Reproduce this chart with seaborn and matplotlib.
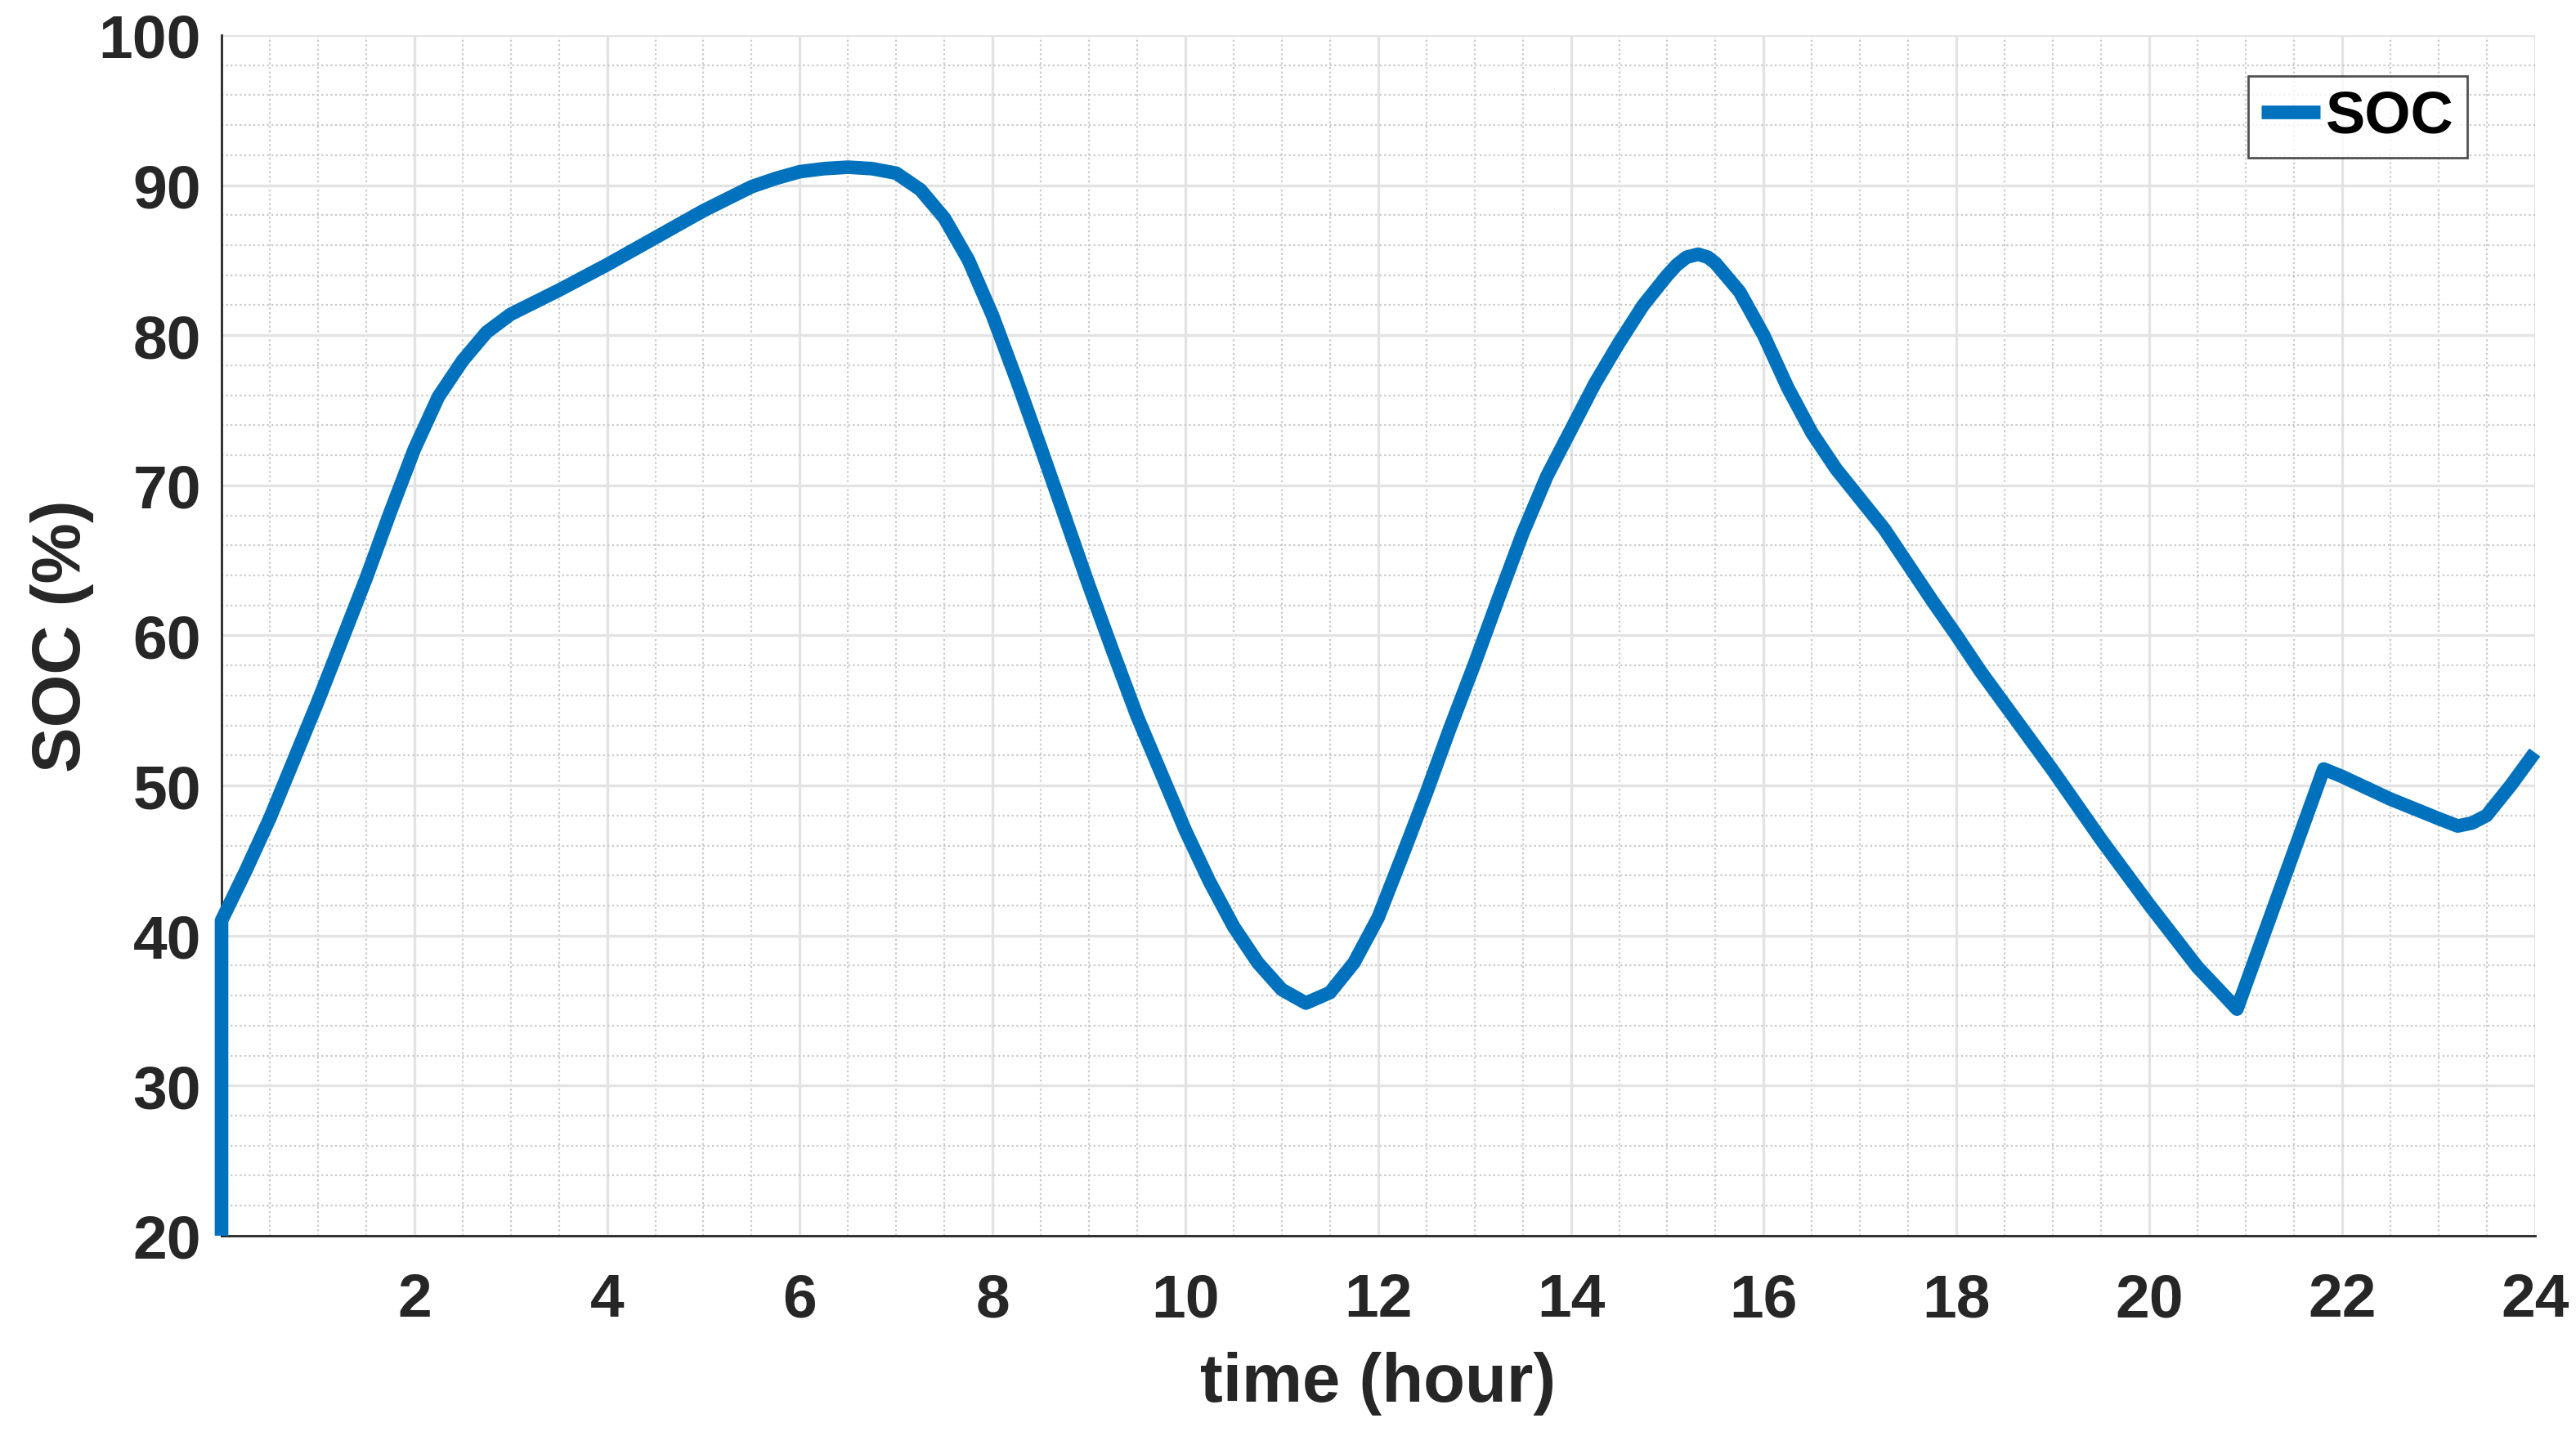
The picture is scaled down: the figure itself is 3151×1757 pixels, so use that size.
import matplotlib
matplotlib.use("Agg")
import matplotlib.pyplot as plt
from matplotlib.ticker import MultipleLocator
import seaborn as sns

# SOC curve (hour, %)
hours = [0, 0, 0.25, 0.5, 0.75, 1, 1.25, 1.5, 1.75, 2, 2.25, 2.5, 2.75, 3,
         3.25, 3.5, 4, 4.5, 5, 5.5, 5.75, 6, 6.25, 6.5, 6.75, 7, 7.25, 7.5,
         7.75, 8, 8.25, 8.5, 8.75, 9, 9.25, 9.5, 9.75, 10, 10.25, 10.5, 10.75,
         11, 11.25, 11.5, 11.75, 12, 12.25, 12.5, 12.75, 13, 13.25, 13.5,
         13.75, 14, 14.25, 14.5, 14.75, 15, 15.1, 15.2, 15.32, 15.42, 15.5,
         15.75, 16, 16.25, 16.5, 16.75, 17, 17.25, 17.5, 17.75, 18, 18.25,
         18.5, 18.75, 19, 19.5, 20, 20.5, 20.75, 20.91, 21.81, 22, 22.5, 23,
         23.2, 23.35, 23.5, 23.75, 24]
soc = [20, 41, 44.3, 47.8, 51.7, 55.6, 59.7, 63.8, 68.2, 72.4, 75.9, 78.3,
       80.2, 81.4, 82.2, 83.0, 84.7, 86.5, 88.3, 89.9, 90.45, 90.9, 91.1, 91.2,
       91.1, 90.8, 89.7, 87.8, 85.0, 81.3, 77.0, 72.5, 67.9, 63.3, 58.9, 54.6,
       50.8, 47.0, 43.6, 40.6, 38.2, 36.4, 35.5, 36.2, 38.2, 41.2, 45.3, 49.5,
       53.9, 58.1, 62.5, 66.8, 70.6, 73.7, 76.8, 79.5, 82.0, 84.0, 84.7, 85.2,
       85.4, 85.2, 84.8, 82.9, 80.0, 76.5, 73.5, 71.1, 69.1, 67.1, 64.7, 62.3,
       60.0, 57.6, 55.4, 53.2, 51.0, 46.4, 42.05, 37.9, 36.2, 35.1, 51.1, 50.6,
       49.1, 47.8, 47.3, 47.5, 48.0, 50.0, 52.2]

x_ticks = list(range(2, 25, 2))
y_ticks = list(range(20, 101, 10))

sns.set_theme(style="white")
plt.rcParams["font.family"] = ["Liberation Sans", "DejaVu Sans"]
plt.rcParams["font.weight"] = "bold"

fig = plt.figure(figsize=(15.755, 8.79), dpi=200)
ax = fig.add_axes([0.086, 0.1394, 0.898, 0.8356])

sns.lineplot(x=hours, y=soc, ax=ax, estimator=None, sort=False,
             color="#0072BD", linewidth=6.0, label="SOC",
             solid_capstyle="butt", solid_joinstyle="round",
             clip_on=False, zorder=5)

ax.set_xlim(0, 24)
ax.set_ylim(20, 100)
ax.set_xticks(x_ticks)
ax.set_yticks(y_ticks)
ax.xaxis.set_minor_locator(MultipleLocator(0.5))
ax.yaxis.set_minor_locator(MultipleLocator(2))

ax.grid(which="major", color="#e3e3e3", linewidth=1.2, linestyle="-")
ax.grid(which="minor", color="#c9c9c9", linewidth=0.8, linestyle=(0, (1, 1.5)))
ax.set_axisbelow(True)

for side in ["top", "right"]:
    ax.spines[side].set_visible(False)
for side in ["left", "bottom"]:
    ax.spines[side].set_color("#262626")
    ax.spines[side].set_linewidth(1.0)

ax.tick_params(which="major", direction="in", length=10.4, width=0.9,
               color="#262626", labelcolor="#262626", labelsize=27)
ax.tick_params(axis="x", which="major", pad=16)
ax.tick_params(axis="y", which="major", pad=9)
ax.tick_params(which="minor", length=0)
for lbl in ax.get_xticklabels() + ax.get_yticklabels():
    lbl.set_fontweight("bold")

ax.set_xlabel("time (hour)", fontsize=30, fontweight="bold", color="#262626",
              labelpad=10)
ax.set_ylabel("SOC (%)", fontsize=30, fontweight="bold", color="#262626",
              labelpad=2)

leg = ax.legend(loc="upper right", bbox_to_anchor=(0.9707, 0.966),
                frameon=True, fancybox=False, fontsize=26, handlelength=1.0,
                handletextpad=0.1, borderpad=0.22, borderaxespad=0)
leg.get_frame().set_edgecolor("#262626")
leg.get_frame().set_linewidth(1.0)
for t in leg.get_texts():
    t.set_fontweight("bold")
    t.set_color("black")

fig.savefig("out.png", dpi=200)
